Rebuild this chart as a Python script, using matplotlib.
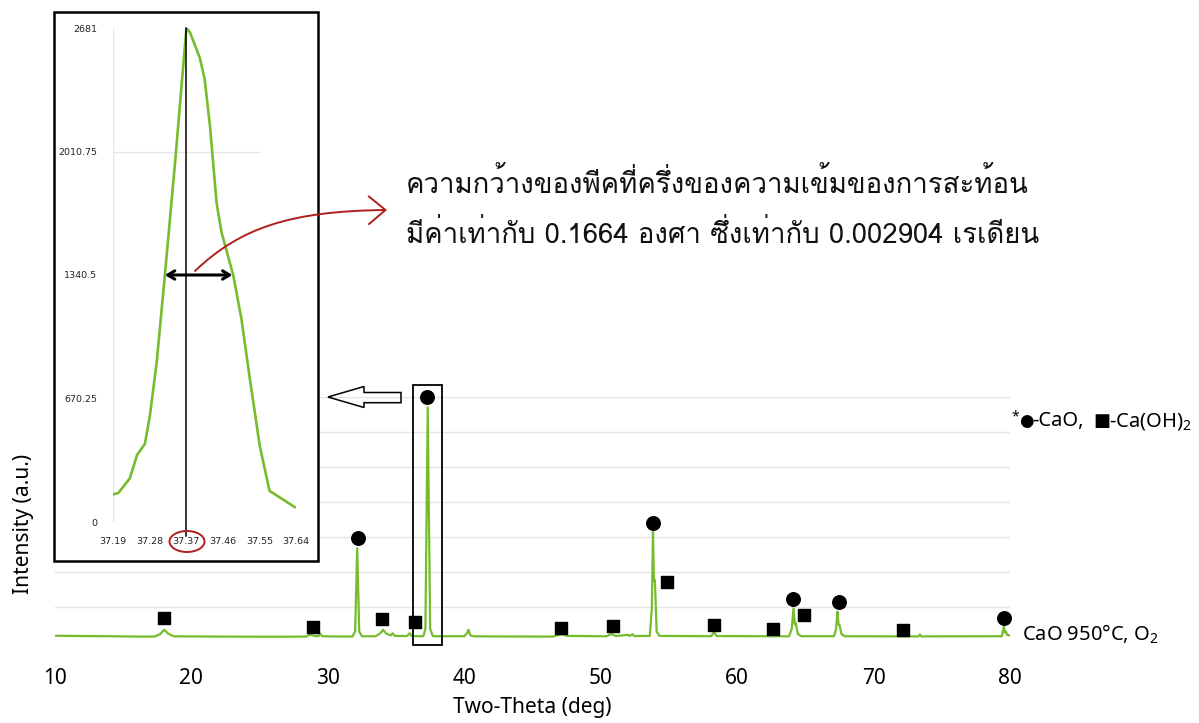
import matplotlib
matplotlib.use("Agg")
import matplotlib.pyplot as plt
from matplotlib import font_manager as fm
from matplotlib.ft2font import FT2Font
from matplotlib.patches import Rectangle, Ellipse, FancyArrowPatch, Polygon
from matplotlib.path import Path

# ---------------- data ----------------
two_theta = [10.0, 12.0, 14.0, 16.0, 17.3, 17.7, 18.0, 18.3, 18.7, 22.0, 26.0,
             28.4, 28.7, 29.0, 29.3, 29.45, 29.6, 31.8, 32.0, 32.15, 32.3, 32.5,
             33.5, 33.85, 34.05, 34.3, 34.6, 34.75, 34.9, 35.8, 36.0, 36.15,
             37.0, 37.15, 37.32, 37.5, 37.7, 40.0, 40.2, 40.3, 40.45, 40.7,
             43.0, 46.5, 46.9, 47.2, 47.5, 50.4, 50.8, 51.1, 52.0, 52.1, 52.35,
             52.45, 53.6, 53.75, 53.83, 53.9, 53.97, 54.1, 54.3, 58.1, 58.3,
             58.5, 63.8, 64.0, 64.13, 64.22, 64.3, 64.45, 64.7, 67.1, 67.25,
             67.35, 67.43, 67.5, 67.65, 67.9, 72.0, 73.3, 73.4, 73.5, 79.4,
             79.55, 79.62, 79.7, 79.8, 80.0]
intensity = [72, 68, 66, 62, 62, 90, 140, 95, 65, 62, 60,
             62, 85, 70, 66, 95, 65, 62, 120, 1071, 120, 65,
             66, 100, 140, 95, 75, 100, 70, 68, 100, 68,
             66, 150, 2681, 150, 66, 66, 100, 140, 75, 65,
             63, 62, 80, 88, 70, 65, 92, 68, 82, 68, 90,
             68, 70, 400, 1261, 700, 709, 120, 70, 66, 115,
             68, 65, 150, 385, 200, 217, 90, 66, 66, 150,
             346, 200, 194, 90, 66, 64, 64, 85, 64, 66,
             175, 110, 118, 80, 75]

cao_x = [32.19, 37.27, 53.82, 64.13, 67.45, 79.57]
cao_y = [1185, 2804, 1364, 488, 453, 278]
caoh2_x = [17.99, 28.94, 33.97, 36.42, 47.07, 50.88, 54.84, 58.34, 62.66, 64.93, 72.14]
caoh2_y = [271, 175, 263, 225, 164, 183, 682, 198, 149, 309, 137]

x_ticks = [10, 20, 30, 40, 50, 60, 70, 80]

inset_x = [37.19, 37.204, 37.232, 37.25, 37.269, 37.281, 37.298, 37.318, 37.343,
           37.371, 37.38, 37.404, 37.416, 37.429, 37.445, 37.457, 37.486, 37.506,
           37.526, 37.551, 37.575, 37.637]
inset_y = [149, 158, 237, 365, 424, 572, 867, 1338, 1948,
           2681, 2656, 2518, 2400, 2145, 1732, 1574, 1338, 1103,
           788, 414, 169, 81]
inset_xticks = [37.19, 37.28, 37.37, 37.46, 37.55, 37.64]
inset_yticks = [0, 670.25, 1340.5, 2010.75, 2681]
fwhm_left, fwhm_right, fwhm_level = 37.318, 37.484, 1340.5
peak_pos = 37.37

thai_line1 = "ความกว้างของพีคที่ครึ่งของความเข้มของการสะท้อน"
thai_line2 = "มีค่าเท่ากับ 0.1664 องศา ซึ่งเท่ากับ 0.002904 เรเดียน"
series_label = "CaO 950°C, O$_2$"

GREEN = "#77bc2e"
RED = "#b01e1e"

# ---------------- fonts ----------------
def thai_fonts(chars):
    found = []
    for f in fm.fontManager.ttflist:
        try:
            cm = FT2Font(f.fname).get_charmap()
            if all(ord(c) in cm for c in chars):
                found.append(f.name)
        except Exception:
            pass
    return sorted(set(found))

found_thai = thai_fonts("กวามีเ")
pref = ["Tahoma", "Loma", "Noto Sans Thai", "Noto Sans Thai UI", "Garuda",
        "Sarabun", "Waree", "Umpush", "Norasi", "Kinnari"]
thai_font = next((p for p in pref if p in found_thai),
                 found_thai[0] if found_thai else "DejaVu Sans")

LATIN = "Noto Sans"
plt.rcParams["font.family"] = [LATIN, "DejaVu Sans"]
plt.rcParams["mathtext.default"] = "regular"

W, H = 1199, 723
fig = plt.figure(figsize=(W / 100, H / 100), dpi=100)
fig.patch.set_facecolor("white")

def fx(x):
    return x / W

def fy(y):
    return 1 - y / H

# ---------------- main axes ----------------
ax = fig.add_axes([fx(55), fy(642), fx(1010) - fx(55), fy(397) - fy(642)])
ax.plot(two_theta, intensity, color=GREEN, lw=1.6, zorder=3)
ax.scatter(cao_x, cao_y, marker="o", s=95, color="black", zorder=4, clip_on=False)
ax.scatter(caoh2_x, caoh2_y, marker="s", s=85, color="black", zorder=4, clip_on=False)
ax.set_xlim(10, 80)
ax.set_ylim(0, 2800)
ax.set_xticks(x_ticks)
ax.set_xticklabels([str(t) for t in x_ticks])
ax.set_yticks(range(400, 2801, 400))
ax.set_yticklabels([])
ax.grid(axis="y", color="#e4e4e4", lw=1.0)
ax.set_axisbelow(True)
for s in ax.spines.values():
    s.set_visible(False)
ax.tick_params(axis="both", length=0, labelsize=15, pad=19)

# rectangle around main peak (figure pixels)
fig.patches.append(Rectangle((fx(413), fy(645)), fx(442) - fx(413), fy(385) - fy(645),
                             transform=fig.transFigure, fill=False, ec="black", lw=1.3, zorder=6))

# hollow arrow pointing left
arrow_pts = [(328, 397), (364, 386.5), (364, 392.5), (401, 392.5), (401, 402.7),
             (364, 402.7), (364, 407.5)]
fig.patches.append(Polygon([(fx(a), fy(b)) for a, b in arrow_pts], closed=True,
                           transform=fig.transFigure, fill=False, ec="black", lw=1.1, zorder=6))

fig.text(fx(532), fy(708), "Two-Theta (deg)", ha="center", va="center", fontsize=15)
fig.text(fx(23), fy(524), "Intensity (a.u.)", ha="center", va="center", fontsize=15,
         rotation=90)

fig.text(fx(1022), fy(634), series_label, ha="left", va="center", fontsize=14.5)
fig.text(fx(1011), fy(417), "*", ha="left", va="center", fontsize=10)
fig.text(fx(1019), fy(421), "\u25CF", ha="left", va="center", fontsize=12,
         family=["DejaVu Sans"])
fig.text(fx(1032), fy(421), "-CaO,", ha="left", va="center", fontsize=14.5)
fig.text(fx(1093), fy(421), "\u25A0", ha="left", va="center", fontsize=13,
         family=["DejaVu Sans"])
fig.text(fx(1109), fy(421), "-Ca(OH)$_2$", ha="left", va="center", fontsize=14.5)

# ---------------- inset ----------------
fig.patches.append(Rectangle((fx(54), fy(561)), fx(318) - fx(54), fy(12) - fy(561),
                             transform=fig.transFigure, fill=True, fc="white", ec="black",
                             lw=1.8, zorder=1))
iax = fig.add_axes([fx(112.7), fy(522), fx(296) - fx(112.7), fy(28) - fy(522)], zorder=5)
iax.patch.set_alpha(0)
iax.set_xlim(37.19, 37.64)
iax.set_ylim(0, 2681)
iax.plot(inset_x, inset_y, color=GREEN, lw=1.9, zorder=3)
iax.set_xticks(inset_xticks)
iax.set_xticklabels([f"{v:.2f}" for v in inset_xticks])
iax.set_yticks(inset_yticks)
iax.set_yticklabels(["0", "670.25", "1340.5", "2010.75", "2681"])
for s in iax.spines.values():
    s.set_visible(False)
iax.tick_params(axis="both", length=0, labelsize=6.8, colors="#222222")
iax.tick_params(axis="y", pad=11)
iax.tick_params(axis="x", pad=11)
for lbl in iax.get_xticklabels() + iax.get_yticklabels():
    lbl.set_family("DejaVu Sans")
iax.axvline(37.19, color="#e6e6e6", lw=1.0, zorder=1)
iax.plot([37.19, 37.55], [2010.75, 2010.75], color="#e6e6e6", lw=1.0, zorder=1)
iax.plot([peak_pos, peak_pos], [2681, -74], color="black", lw=1.1, zorder=4, clip_on=False)
iax.annotate("", xy=(fwhm_left, fwhm_level), xytext=(fwhm_right, fwhm_level),
             arrowprops=dict(arrowstyle="<->,head_length=0.5,head_width=0.3",
                             color="black", lw=2.2, shrinkA=0, shrinkB=0), zorder=6)

fig.patches.append(Ellipse((fx(187), fy(541.5)), fx(35), 21 / H, transform=fig.transFigure,
                           fill=False, ec=RED, lw=1.4, zorder=7))

verts = [(fx(195), fy(271)), (fx(240), fy(228)), (fx(290), fy(211)), (fx(387), fy(210))]
path = Path(verts, [Path.MOVETO, Path.CURVE4, Path.CURVE4, Path.CURVE4])
fig.patches.append(FancyArrowPatch(path=path, transform=fig.transFigure,
                                   arrowstyle="->,head_length=12,head_width=10",
                                   mutation_scale=1, color=RED, lw=1.4, zorder=7))

# ---------------- Thai annotation ----------------
t1 = fig.text(fx(406), fy(193), thai_line1, ha="left", va="baseline", fontsize=19.8,
              family=[thai_font, "DejaVu Sans"], color="#111111")
t2 = fig.text(fx(406), fy(243), thai_line2, ha="left", va="baseline", fontsize=19.8,
              family=[thai_font, "DejaVu Sans"], color="#111111")
renderer = fig.canvas.get_renderer()
w1 = t1.get_window_extent(renderer).width
if w1 > 0:
    fs = 19.8 * 622 / w1
    t1.set_fontsize(fs)
    t2.set_fontsize(fs)

fig.savefig("out.png", dpi=100, facecolor="white")
